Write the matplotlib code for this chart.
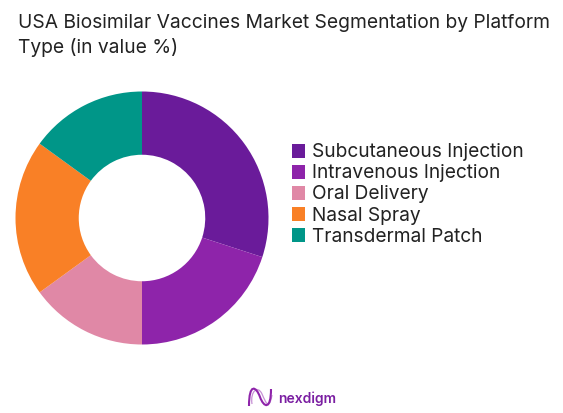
import matplotlib
matplotlib.use("Agg")
import matplotlib.pyplot as plt
from matplotlib.patches import Rectangle, PathPatch
from matplotlib.path import Path
from matplotlib.transforms import Affine2D

W, H = 563, 414
title_lines = ["USA Biosimilar Vaccines Market Segmentation by Platform", "Type (in value %)"]
categories = ["Subcutaneous Injection", "Intravenous Injection", "Oral Delivery", "Nasal Spray", "Transdermal Patch"]
values = [30, 20, 15, 20, 15]
colors = ["#6A1B9A", "#8E24AA", "#E088A6", "#F98026", "#009688"]
text_color = "#222222"
font = "Inter"

fig = plt.figure(figsize=(W / 100, H / 100), dpi=100, facecolor="white")

cx, cy, r = 142, 219, 126.5
ax = fig.add_axes([(cx - r) / W, 1 - (cy + r) / H, 2 * r / W, 2 * r / H])
ax.pie(values, colors=colors, startangle=90, counterclock=False, radius=1,
       wedgeprops=dict(width=0.5, linewidth=0))
ax.set_xlim(-1, 1)
ax.set_ylim(-1, 1)
ax.set_aspect("equal")
ax.axis("off")

def fx(p): return p / W
def fy(p): return 1 - p / H

for i, line in enumerate(title_lines):
    fig.text(fx(18), fy(23 + 24.5 * i), line, fontsize=13.85, family=font, color=text_color,
             ha="left", va="center")

ys = [151.5, 172.5, 193.5, 215, 236]
for name, col, y in zip(categories, colors, ys):
    fig.add_artist(Rectangle((fx(291.5), fy(y + 7)), 14 / W, 14 / H, transform=fig.transFigure,
                             facecolor=col, edgecolor="none"))
    fig.text(fx(312), fy(y + 0.8), name, fontsize=13.75, family=font, color=text_color,
             ha="left", va="center")

# logo mark: two crossing strokes forming a stylised N
to_fig = Affine2D().scale(1 / W, -1 / H).translate(0, 1) + fig.transFigure
codes = [Path.MOVETO, Path.CURVE4, Path.CURVE4, Path.CURVE4, Path.CURVE4, Path.CURVE4, Path.CURVE4]
strokes = [
    ([(249, 407), (249, 384), (256, 387), (260, 398), (264, 409), (271, 411), (271, 390)], 1.5, 1.0),
    ([(252, 405), (250, 392), (258, 386), (262, 395), (266, 404), (269, 412), (272, 396)], 0.9, 0.5),
]
for pts, lw, alpha in strokes:
    fig.add_artist(PathPatch(Path(pts, codes), transform=to_fig, facecolor="none",
                             edgecolor="#8E24AA", lw=lw, alpha=alpha))
fig.text(fx(278.5), fy(399), "nexdigm", fontsize=10, family=font, weight="semibold", color="#7B1FA2",
         ha="left", va="center")

fig.savefig("out.png", dpi=100, facecolor="white")
